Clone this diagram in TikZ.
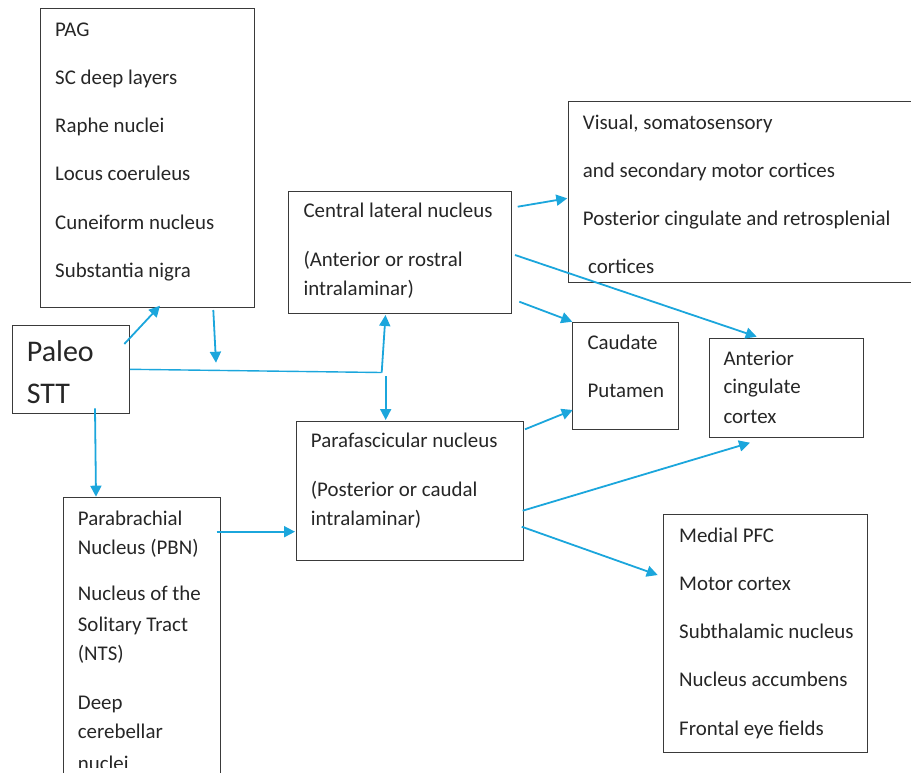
\documentclass[tikz,border=0pt]{standalone}
\usepackage{fontspec}
\setmainfont{Carlito}
\usetikzlibrary{arrows.meta}
\definecolor{arrblue}{HTML}{1BA6DC}
\definecolor{boxgray}{HTML}{3A3A3A}
\definecolor{txtgray}{HTML}{262626}
\tikzset{
  box/.style={draw=boxgray, line width=1.1pt, inner sep=0pt, anchor=north west},
  txt/.style={inner sep=0pt, anchor=base west, text=txtgray, font=\fontsize{20.9}{24}\selectfont},
  bigtxt/.style={inner sep=0pt, anchor=base west, text=txtgray, font=\fontsize{30}{34}\selectfont},
  arr/.style={draw=arrblue, line width=1.8pt, -{Triangle[length=11pt,width=11pt]}},
  plainline/.style={draw=arrblue, line width=1.4pt},
}
\begin{document}
\begin{tikzpicture}[x=1pt,y=-1pt]
\useasboundingbox (0,0) rectangle (911,772);
\clip (0,0) rectangle (911,772);
% boxes
\node[box, minimum width=214pt, minimum height=299pt] (tl) at (40,8) {};
\node[box, minimum width=117pt, minimum height=88pt] (paleo) at (12.3,325) {};
\node[box, minimum width=223pt, minimum height=122pt] (cl) at (288.3,191) {};
\node[box, minimum width=345pt, minimum height=181pt] (vis) at (568,101) {};
\node[box, minimum width=105.5pt, minimum height=107pt] (caud) at (572.3,322.3) {};
\node[box, minimum width=154pt, minimum height=99pt] (acc) at (709.3,338.3) {};
\node[box, minimum width=227pt, minimum height=139pt] (pf) at (295.7,420.7) {};
\node[box, minimum width=157pt, minimum height=300pt] (pbn) at (63.3,497.3) {};
\node[box, minimum width=203.4pt, minimum height=237.4pt] (mpfc) at (663.3,514.3) {};
% texts: top-left box
\node[txt] (t1) at (55,36) {PAG};
\node[txt] (t2) at (55,84.3) {SC deep layers};
\node[txt] (t3) at (55,132.6) {Raphe nuclei};
\node[txt] (t4) at (55,180.9) {Locus coeruleus};
\node[txt] (t5) at (55,229.2) {Cuneiform nucleus};
\node[txt] (t6) at (55,277.5) {Substantia nigra};
% Paleo STT
\node[bigtxt] (p1) at (26.7,361.7) {Paleo};
\node[bigtxt] (p2) at (26.7,403.3) {STT};
% central lateral
\node[txt] (c1) at (303.3,217.3) {Central lateral nucleus};
\node[txt] (c2) at (303.3,266.5) {(Anterior or rostral};
\node[txt] (c3) at (303.3,295.7) {intralaminar)};
% visual
\node[txt] (v1) at (582.7,129.3) {Visual, somatosensory};
\node[txt] (v2) at (582.7,177.3) {and secondary motor cortices};
\node[txt] (v3) at (582.7,225) {Posterior cingulate and retrosplenial};
\node[txt] (v4) at (588,273.3) {cortices};
% caudate
\node[txt] (d1) at (587.3,349) {Caudate};
\node[txt] (d2) at (587.3,397.3) {Putamen};
% ACC
\node[txt] (a1) at (723.3,365) {Anterior};
\node[txt] (a2) at (723.3,393.3) {cingulate};
\node[txt] (a3) at (723.3,423.3) {cortex};
% parafascicular
\node[txt] (f1) at (310.7,447.3) {Parafascicular nucleus};
\node[txt] (f2) at (310.7,496.5) {(Posterior or caudal};
\node[txt] (f3) at (310.7,525.7) {intralaminar)};
% PBN
\node[txt] (b1) at (77.7,525) {Parabrachial};
\node[txt] (b2) at (77.7,554) {Nucleus (PBN)};
\node[txt] (b3) at (77.7,600.7) {Nucleus of the};
\node[txt] (b4) at (77.7,631.7) {Solitary Tract};
\node[txt] (b5) at (77.7,660) {(NTS)};
\node[txt] (b6) at (77.7,709.3) {Deep};
\node[txt] (b7) at (77.7,738.3) {cerebellar};
\begin{scope}
\clip (64,700) rectangle (219,767);
\node[txt] (b8) at (77.7,770.5) {nuclei};
\end{scope}
% medial PFC
\node[txt] (m1) at (679,542.3) {Medial PFC};
\node[txt] (m2) at (679,590) {Motor cortex};
\node[txt] (m3) at (679,638.3) {Subthalamic nucleus};
\node[txt] (m4) at (679,686.7) {Nucleus accumbens};
\node[txt] (m5) at (679,735) {Frontal eye fields};
% connector end points
\coordinate (pA) at (124.3,344);
\coordinate (tlA) at (160,305.7);
\coordinate (tlB) at (213.3,310);
\coordinate (freeB) at (216,362.7);
\coordinate (pB) at (130,369.3);
\coordinate (jn) at (381.7,372.5);
\coordinate (clA) at (385.5,315);
\coordinate (jnB) at (385.7,376);
\coordinate (pfA) at (385.7,420);
\coordinate (pC) at (95,408.3);
\coordinate (pbnA) at (96,496.7);
\coordinate (pbnB) at (216.7,531.7);
\coordinate (pfB) at (295,531.7);
\coordinate (clB) at (517.7,206.7);
\coordinate (visA) at (567.3,198.3);
\coordinate (clC) at (515,255);
\coordinate (accA) at (756.7,336.7);
\coordinate (clD) at (519.3,301.7);
\coordinate (caudA) at (572.3,321.7);
\coordinate (pfC) at (525,429.3);
\coordinate (caudB) at (572.7,410);
\coordinate (pfD) at (522.7,510.7);
\coordinate (accB) at (750,442.7);
\coordinate (pfE) at (521.7,526.7);
\coordinate (mpfcA) at (657.7,575);
% connectors
\draw[arr] (pA) -- (tlA);
\draw[arr] (tlB) -- (freeB);
\draw[plainline] (pB) -- (jn);
\draw[arr] (jn) -- (clA);
\draw[arr] (jnB) -- (pfA);
\draw[arr] (pC) -- (pbnA);
\draw[arr] (pbnB) -- (pfB);
\draw[arr] (clB) -- (visA);
\draw[arr] (clC) -- (accA);
\draw[arr] (clD) -- (caudA);
\draw[arr] (pfC) -- (caudB);
\draw[arr] (pfD) -- (accB);
\draw[arr] (pfE) -- (mpfcA);
\end{tikzpicture}
\end{document}
